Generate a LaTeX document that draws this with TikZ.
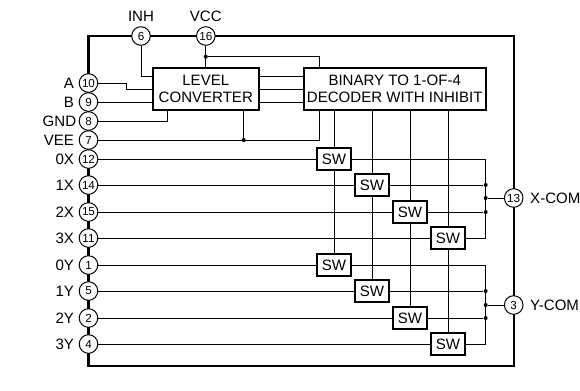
\documentclass[tikz,border=0pt]{standalone}
\usepackage{fontspec}
\setmainfont{Liberation Sans}
\usetikzlibrary{positioning}

\begin{document}
\begin{tikzpicture}[
  x=0.025cm, y=-0.025cm,
  pinnode/.style={circle, draw=black, fill=white, line width=0.7pt, inner sep=0pt,
    minimum size=0.465cm, font=\fontsize{8.3}{9}\selectfont},
  pinlabel/.style={inner sep=0pt, font=\fontsize{10.7}{12}\selectfont},
  blockbox/.style={rectangle, draw=black, line width=1.4pt, fill=white, inner sep=0pt,
    outer sep=0pt, minimum height=1.04cm, align=center,
    font=\fontsize{10.7}{11.9}\selectfont},
  swbox/.style={rectangle, draw=black, line width=1.4pt, fill=white, inner sep=0pt,
    outer sep=0pt, minimum width=0.865cm, minimum height=0.565cm,
    font=\fontsize{10.7}{12}\selectfont},
  dot/.style={circle, fill=black, inner sep=0pt, minimum size=0.1cm},
  wire/.style={line width=0.7pt, color=black}
]
  \useasboundingbox (0,0) rectangle (580,390);

  % package outline
  \draw[line width=1.5pt] (88.5,36) rectangle (513.7,366);

  \node[pinnode] (p6)  at (141,36)    {6};
  \node[pinnode] (p16) at (205.8,36)  {16};
  \node[pinnode] (p10) at (88.5,83)   {10};
  \node[pinnode] (p9)  at (88.5,102)  {9};
  \node[pinnode] (p8)  at (88.5,121)  {8};
  \node[pinnode] (p7)  at (88.5,140)  {7};
  \node[pinnode] (p12) at (88.5,159)  {12};
  \node[pinnode] (p14) at (88.5,185)  {14};
  \node[pinnode] (p15) at (88.5,212)  {15};
  \node[pinnode] (p11) at (88.5,238)  {11};
  \node[pinnode] (p1)  at (88.5,265)  {1};
  \node[pinnode] (p5)  at (88.5,291)  {5};
  \node[pinnode] (p2)  at (88.5,318)  {2};
  \node[pinnode] (p4)  at (88.5,344)  {4};
  \node[pinnode] (p13) at (513.7,198) {13};
  \node[pinnode] (p3)  at (513.7,305) {3};

  \node[pinlabel, above=3pt of p6]    (linh) {INH};
  \node[pinlabel, above=3pt of p16]   (lvcc) {VCC};
  \node[pinlabel, left=3.2pt of p10]  (la)   {A};
  \node[pinlabel, left=3.2pt of p9]   (lb)   {B};
  \node[pinlabel, left=1.6pt of p8]   (lgnd) {GND};
  \node[pinlabel, left=3.2pt of p7]   (lvee) {VEE};
  \node[pinlabel, left=3.2pt of p12]  (l0x)  {0X};
  \node[pinlabel, left=3.2pt of p14]  (l1x)  {1X};
  \node[pinlabel, left=3.2pt of p15]  (l2x)  {2X};
  \node[pinlabel, left=3.2pt of p11]  (l3x)  {3X};
  \node[pinlabel, left=3.2pt of p1]   (l0y)  {0Y};
  \node[pinlabel, left=3.2pt of p5]   (l1y)  {1Y};
  \node[pinlabel, left=3.2pt of p2]   (l2y)  {2Y};
  \node[pinlabel, left=3.2pt of p4]   (l3y)  {3Y};
  \node[pinlabel, right=4.6pt of p13] (lxcom) {X-COM};
  \node[pinlabel, right=4.6pt of p3]  (lycom) {Y-COM};

  \node[blockbox, minimum width=2.66cm] (conv) at (205.8,88.8) {LEVEL\\CONVERTER};
  \node[blockbox, minimum width=4.55cm] (dec)  at (394.7,88.8) {BINARY TO 1-OF-4\\DECODER WITH INHIBIT};

  \node[swbox] (sw0x) at (334,159) {SW};
  \node[swbox] (sw1x) at (372,185) {SW};
  \node[swbox] (sw2x) at (410,212) {SW};
  \node[swbox] (sw3x) at (448,238) {SW};
  \node[swbox] (sw0y) at (334,265) {SW};
  \node[swbox] (sw1y) at (372,291) {SW};
  \node[swbox] (sw2y) at (410,318) {SW};
  \node[swbox] (sw3y) at (448,344) {SW};

  \node[dot] (dvcc) at (205.8,56.7) {};
  \node[dot] (dvee) at (243.7,140)  {};
  \node[dot] (dxc)  at (485.7,198)  {};
  \node[dot] (dx1)  at (485.7,185)  {};
  \node[dot] (dx2)  at (485.7,212)  {};
  \node[dot] (dyc)  at (485.7,305)  {};
  \node[dot] (dy1)  at (485.7,291)  {};
  \node[dot] (dy2)  at (485.7,318)  {};

  \coordinate (t1) at (0,76);
  \coordinate (t2) at (0,89);
  \coordinate (t3) at (0,102);
  \coordinate (jupper) at (319.3,0);
  \coordinate (ja) at (126,83);
  \coordinate (jgnd) at (167.7,0);

  \draw[wire] (p6.south) |- (conv.west |- t1);
  \draw[wire] (p16.south) -- (conv.north);
  \draw[wire] (dvcc) -| (jupper |- dec.north);
  \draw[wire] (p10.east) -- (ja) |- (conv.west |- t2);
  \draw[wire] (p9.east) -- (conv.west |- t3);
  \draw[wire] (p8.east) -| (jgnd |- conv.south);
  \draw[wire] (p7.east) -| (jupper |- dec.south);
  \draw[wire] (dvee) -- (conv.south -| dvee);

  \draw[wire] (conv.east |- t1) -- (dec.west |- t1);
  \draw[wire] (conv.east |- t2) -- (dec.west |- t2);
  \draw[wire] (conv.east |- t3) -- (dec.west |- t3);

  \draw[wire] (p12.east) -- (sw0x.west);
  \draw[wire] (p14.east) -- (sw1x.west);
  \draw[wire] (p15.east) -- (sw2x.west);
  \draw[wire] (p11.east) -- (sw3x.west);
  \draw[wire] (p1.east)  -- (sw0y.west);
  \draw[wire] (p5.east)  -- (sw1y.west);
  \draw[wire] (p2.east)  -- (sw2y.west);
  \draw[wire] (p4.east)  -- (sw3y.west);

  \draw[wire] (dec.south -| sw0x) -- (sw0x.north);
  \draw[wire] (dec.south -| sw1x) -- (sw1x.north);
  \draw[wire] (dec.south -| sw2x) -- (sw2x.north);
  \draw[wire] (dec.south -| sw3x) -- (sw3x.north);
  \draw[wire] (sw0x.south) -- (sw0y.north);
  \draw[wire] (sw1x.south) -- (sw1y.north);
  \draw[wire] (sw2x.south) -- (sw2y.north);
  \draw[wire] (sw3x.south) -- (sw3y.north);

  \draw[wire] (sw0x.east) -| (dxc) |- (sw3x.east);
  \draw[wire] (sw1x.east) -- (dx1);
  \draw[wire] (sw2x.east) -- (dx2);
  \draw[wire] (dxc) -- (p13.west);

  \draw[wire] (sw0y.east) -| (dyc) |- (sw3y.east);
  \draw[wire] (sw1y.east) -- (dy1);
  \draw[wire] (sw2y.east) -- (dy2);
  \draw[wire] (dyc) -- (p3.west);
\end{tikzpicture}
\end{document}
